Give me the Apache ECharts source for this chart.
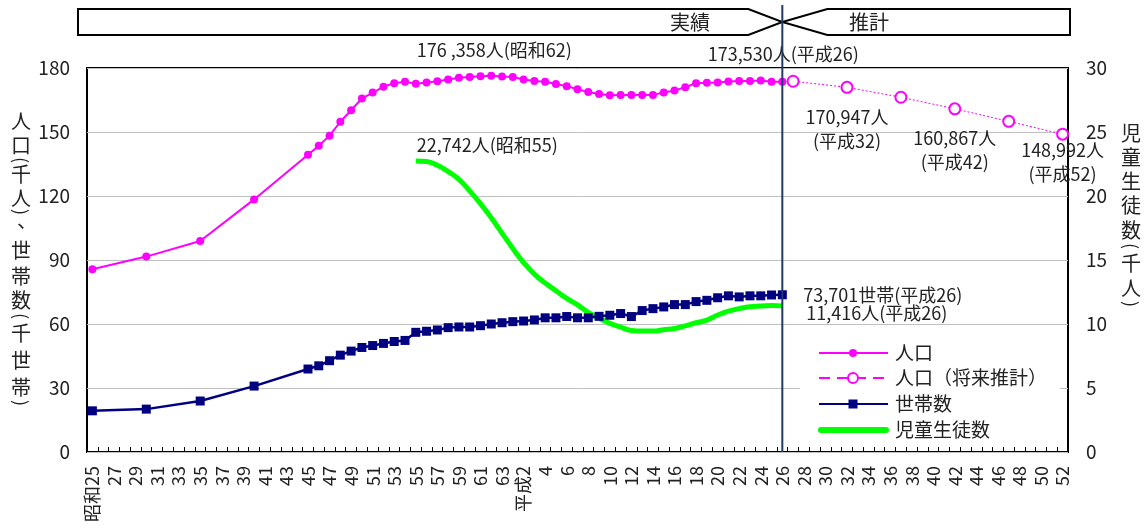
<!DOCTYPE html>
<html>
<head>
<meta charset="utf-8">
<script src="https://cdn.jsdelivr.net/npm/echarts@6/dist/echarts.min.js"></script>
<style>
  html, body { margin: 0; padding: 0; background: #fff; }
  #chart { width: 1147px; height: 532px; }
</style>
</head>
<body>
<div id="chart"></div>
<script>
// ---- categories: one per year, 昭和25 (1950) … 平成52 (2040) ----
const firstYear = 1950;
const lastYear = 2040;
const years = [];
for (let y = firstYear; y <= lastYear; y++) years.push(String(y));

// Japanese era label for a western year (tick text)
function eraLabel(y) {
  if (y <= 1988) return (y === 1950 ? '昭和' : '') + (y - 1925);
  return (y === 1990 ? '平成' : '') + (y - 1988);
}

// ---- 人口 (千人), actual ----
const popYears = [1950, 1955, 1960, 1965,
  1970, 1971, 1972, 1973, 1974, 1975, 1976, 1977, 1978, 1979,
  1980, 1981, 1982, 1983, 1984, 1985, 1986, 1987, 1988, 1989,
  1990, 1991, 1992, 1993, 1994, 1995, 1996, 1997, 1998, 1999,
  2000, 2001, 2002, 2003, 2004, 2005, 2006, 2007, 2008, 2009,
  2010, 2011, 2012, 2013, 2014];
const popValues = [85.7, 91.6, 98.9, 118.4,
  139.3, 143.6, 148.3, 154.8, 160.2, 165.7, 168.5, 171.2, 172.9, 173.5,
  172.6, 173.2, 173.8, 174.6, 175.4, 175.8, 176.1, 176.358, 176.0, 175.8,
  174.6, 173.9, 173.6, 172.5, 171.5, 170.0, 168.7, 167.8, 167.2, 167.4,
  167.4, 167.3, 167.4, 168.5, 169.5, 171.0, 172.9, 173.1, 173.2, 173.7,
  173.9, 173.9, 174.1, 173.6, 173.53];

// ---- 人口 (将来推計, 千人) ----
const projYears = [2014, 2015, 2020, 2025, 2030, 2035, 2040];
const projValues = [173.53, 173.8, 170.947, 166.3, 160.867, 155.0, 148.992];

// ---- 世帯数 (千世帯) ----
const hhYears = popYears;
const hhValues = [19.3, 20.1, 23.9, 30.9,
  38.9, 40.4, 42.8, 45.4, 47.3, 49.0, 49.9, 50.9, 51.8, 52.3,
  56.1, 56.6, 57.2, 58.3, 58.6, 58.6, 59.2, 60.0, 60.6, 61.1,
  61.4, 61.9, 62.9, 62.9, 63.5, 62.9, 62.9, 63.6, 64.1, 64.9,
  63.5, 66.3, 67.2, 68.0, 69.1, 69.1, 70.5, 71.1, 72.3, 73.2,
  72.7, 73.2, 73.2, 73.6, 73.701];

// ---- 児童生徒数 (千人) ----
const stuYears = [1980, 1981, 1982, 1983, 1984, 1985, 1986, 1987, 1988, 1989,
  1990, 1991, 1992, 1993, 1994, 1995, 1996, 1997, 1998, 1999,
  2000, 2001, 2002, 2003, 2004, 2005, 2006, 2007, 2008, 2009,
  2010, 2011, 2012, 2013, 2014];
const stuValues = [22.742, 22.7, 22.4, 21.9, 21.3, 20.4, 19.4, 18.3, 17.1, 15.9,
  14.8, 13.9, 13.2, 12.6, 12.0, 11.5, 10.9, 10.45, 10.05, 9.75,
  9.5, 9.45, 9.45, 9.55, 9.65, 9.85, 10.1, 10.3, 10.7, 11.0,
  11.2, 11.35, 11.4, 11.45, 11.416];

// ---- axis ticks ----
const leftTicks = { min: 0, max: 180, interval: 30 };
const rightTicks = { min: 0, max: 30, interval: 5 };

const FONT = "'Noto Sans CJK JP', 'Noto Sans', sans-serif";
const TEXT = '#222';
const PINK = '#FF00FF';
const NAVY = '#000080';
const GREEN = '#00FF00';
const DIVIDER = '#1F3A6B';

// spread (year, value) pairs onto the yearly category axis
function onYears(ys, vs) {
  const out = years.map(() => null);
  ys.forEach((y, i) => { out[y - firstYear] = vs[i]; });
  return out;
}

const projData = onYears(projYears, projValues);
projData[2014 - firstYear] = { value: projValues[0], symbol: 'none' };

const option = {
  animation: false,
  textStyle: { fontFamily: FONT },
  grid: {
    left: 87, right: 79, top: 68, bottom: 80,
    show: true, borderColor: '#000', borderWidth: 2, backgroundColor: '#fff'
  },
  xAxis: {
    type: 'category',
    data: years,
    boundaryGap: true,
    axisLine: { show: false },
    axisTick: { show: true, inside: true, length: 5, interval: 0, lineStyle: { color: '#000', width: 1 } },
    axisLabel: {
      interval: 1, rotate: 90, fontSize: 18, color: TEXT, margin: 14, fontFamily: FONT,
      formatter: v => eraLabel(+v)
    },
    splitLine: { show: false }
  },
  yAxis: [
    {
      type: 'value', ...leftTicks,
      axisLine: { show: false }, axisTick: { show: false },
      axisLabel: { fontSize: 19, color: TEXT, margin: 17, fontFamily: FONT },
      splitLine: { show: true, lineStyle: { color: '#c0c0c0', width: 1 } }
    },
    {
      type: 'value', ...rightTicks,
      axisLine: { show: false }, axisTick: { show: false },
      axisLabel: { fontSize: 19, color: TEXT, margin: 18, fontFamily: FONT },
      splitLine: { show: false }
    }
  ],
  series: [
    {
      name: '人口', type: 'line', data: onYears(popYears, popValues), connectNulls: true,
      symbol: 'circle', symbolSize: 8, showAllSymbol: true,
      lineStyle: { color: PINK, width: 2 }, itemStyle: { color: PINK }, z: 4
    },
    {
      name: '人口（将来推計）', type: 'line', data: projData, connectNulls: true,
      symbol: 'emptyCircle', symbolSize: 11, showAllSymbol: true,
      lineStyle: { color: PINK, width: 1, type: [2, 2] },
      itemStyle: { color: PINK, borderWidth: 2 }, z: 4
    },
    {
      name: '世帯数', type: 'line', data: onYears(hhYears, hhValues), connectNulls: true,
      symbol: 'rect', symbolSize: 9, showAllSymbol: true,
      lineStyle: { color: NAVY, width: 2.5 }, itemStyle: { color: NAVY }, z: 3
    },
    {
      name: '児童生徒数', type: 'line', yAxisIndex: 1, data: onYears(stuYears, stuValues),
      smooth: true, symbol: 'none', connectNulls: true,
      lineStyle: { color: GREEN, width: 5 }, z: 2
    }
  ]
};

const chart = echarts.init(document.getElementById('chart'), null, { renderer: 'canvas' });
chart.setOption(option);

// pixel position of a data point through the chart's own axes
const pt = (year, value, yAxisIndex) =>
  chart.convertToPixel({ xAxisIndex: 0, yAxisIndex: yAxisIndex }, [String(year), value]);

const valueAt = (ys, vs, year) => vs[ys.indexOf(year)];

const gridBottom = pt(2014, 0, 0)[1];
const xv = pt(2014, 0, 0)[0];

const graphics = [];

// 実績 / 推計 banner with the dividing year line
graphics.push({
  type: 'polygon', z: 10,
  shape: { points: [[78, 9], [xv - 34, 9], [xv, 22], [xv - 34, 35], [78, 35]] },
  style: { fill: '#fff', stroke: '#000', lineWidth: 2 }
});
graphics.push({
  type: 'polygon', z: 10,
  shape: { points: [[xv + 45, 9], [1070, 9], [1070, 35], [xv + 45, 35], [xv, 22]] },
  style: { fill: '#fff', stroke: '#000', lineWidth: 2 }
});
graphics.push({ type: 'text', z: 11, x: 690, y: 22,
  style: { text: '実績', fontSize: 20, fontFamily: FONT, fill: TEXT, align: 'center', verticalAlign: 'middle' } });
graphics.push({ type: 'text', z: 11, x: 869, y: 22,
  style: { text: '推計', fontSize: 20, fontFamily: FONT, fill: TEXT, align: 'center', verticalAlign: 'middle' } });
graphics.push({ type: 'line', z: 30,
  shape: { x1: xv, y1: 5, x2: xv, y2: gridBottom },
  style: { stroke: DIVIDER, lineWidth: 2 } });

// vertical axis titles, one glyph per element; brackets are turned to sit upright in the column
function verticalTitle(chars, cx, centers) {
  chars.forEach((c, i) => {
    const el = { type: 'text', z: 11, x: cx, y: centers[i],
      style: { text: c, fontSize: 20, fontFamily: FONT, fill: TEXT, align: 'center', verticalAlign: 'middle' } };
    if (c === '(' || c === ')') {
      el.rotation = -Math.PI / 2;
      el.style.fontSize = 18;
    } else if (c === '、') {
      el.x = cx + 6;
      el.y = centers[i] - 6;
    }
    graphics.push(el);
  });
}
verticalTitle(['人', '口', '(', '千', '人', ')', '、', '世', '帯', '数', '(', '千', '世', '帯', ')'], 21,
  [121, 145, 160, 174, 198, 212, 226, 250, 276, 300, 316, 333, 360, 387, 403]);
verticalTitle(['児', '童', '生', '徒', '数', '(', '千', '人', ')'], 1131,
  [133, 157, 181, 205, 230, 246, 263, 288, 304]);

// value call-outs, anchored to the points they describe
const notes = [
  { year: 1987, value: valueAt(popYears, popValues, 1987), axis: 0, lines: ['176 ,358人(昭和62)'], dx: 3, dy: -26, align: 'center' },
  { year: 2014, value: valueAt(popYears, popValues, 2014), axis: 0, lines: ['173,530人(平成26)'], dx: 1, dy: -28, align: 'center' },
  { year: 1980, value: valueAt(stuYears, stuValues, 1980), axis: 1, lines: ['22,742人(昭和55)'], dx: 1, dy: -16, align: 'left' },
  { year: 2020, value: valueAt(projYears, projValues, 2020), axis: 0, lines: ['170,947人', '(平成32)'], dx: 0, dy: 30, align: 'center' },
  { year: 2030, value: valueAt(projYears, projValues, 2030), axis: 0, lines: ['160,867人', '(平成42)'], dx: 0, dy: 29, align: 'center' },
  { year: 2040, value: valueAt(projYears, projValues, 2040), axis: 0, lines: ['148,992人', '(平成52)'], dx: 0, dy: 16, align: 'center' },
  { year: 2014, value: valueAt(hhYears, hhValues, 2014), axis: 0, lines: ['73,701世帯(平成26)'], dx: 21, dy: 0, align: 'left' },
  { year: 2014, value: valueAt(stuYears, stuValues, 2014), axis: 1, lines: ['11,416人(平成26)'], dx: 24, dy: 7, align: 'left' }
];
notes.forEach(n => {
  const p = pt(n.year, n.value, n.axis);
  n.lines.forEach((line, i) => {
    graphics.push({ type: 'text', z: 25, x: p[0] + n.dx, y: p[1] + n.dy + i * 24,
      style: { text: line, fontSize: 18, fontFamily: FONT, fill: TEXT, align: n.align, verticalAlign: 'middle' } });
  });
});

// legend panel
const lgX = 819, lgW = 69, lgText = 895;
const rows = [353, 378, 404, 430];
graphics.push({ type: 'rect', z: 20, shape: { x: 800, y: 334, width: 260, height: 112 }, style: { fill: '#fff' } });
// 人口
graphics.push({ type: 'line', z: 21, shape: { x1: lgX, y1: rows[0], x2: lgX + lgW, y2: rows[0] }, style: { stroke: PINK, lineWidth: 2 } });
graphics.push({ type: 'circle', z: 22, shape: { cx: lgX + 34, cy: rows[0], r: 4 }, style: { fill: PINK } });
// 人口（将来推計）
graphics.push({ type: 'line', z: 21, shape: { x1: lgX, y1: rows[1], x2: lgX + lgW, y2: rows[1] }, style: { stroke: PINK, lineWidth: 2, lineDash: [11, 7] } });
graphics.push({ type: 'circle', z: 22, shape: { cx: lgX + 34, cy: rows[1], r: 5 }, style: { fill: '#fff', stroke: PINK, lineWidth: 2 } });
// 世帯数
graphics.push({ type: 'line', z: 21, shape: { x1: lgX, y1: rows[2], x2: lgX + lgW, y2: rows[2] }, style: { stroke: NAVY, lineWidth: 2 } });
graphics.push({ type: 'rect', z: 22, shape: { x: lgX + 34 - 4.5, y: rows[2] - 4.5, width: 9, height: 9 }, style: { fill: NAVY } });
// 児童生徒数
graphics.push({ type: 'line', z: 21, shape: { x1: lgX + 2, y1: rows[3], x2: lgX + lgW - 2, y2: rows[3] }, style: { stroke: GREEN, lineWidth: 6, lineCap: 'round' } });
['人口', '人口（将来推計）', '世帯数', '児童生徒数'].forEach((t, i) => {
  graphics.push({ type: 'text', z: 22, x: lgText, y: rows[i],
    style: { text: t, fontSize: 19, fontFamily: FONT, fill: TEXT, align: 'left', verticalAlign: 'middle' } });
});

chart.setOption({ graphic: graphics });
</script>
</body>
</html>
